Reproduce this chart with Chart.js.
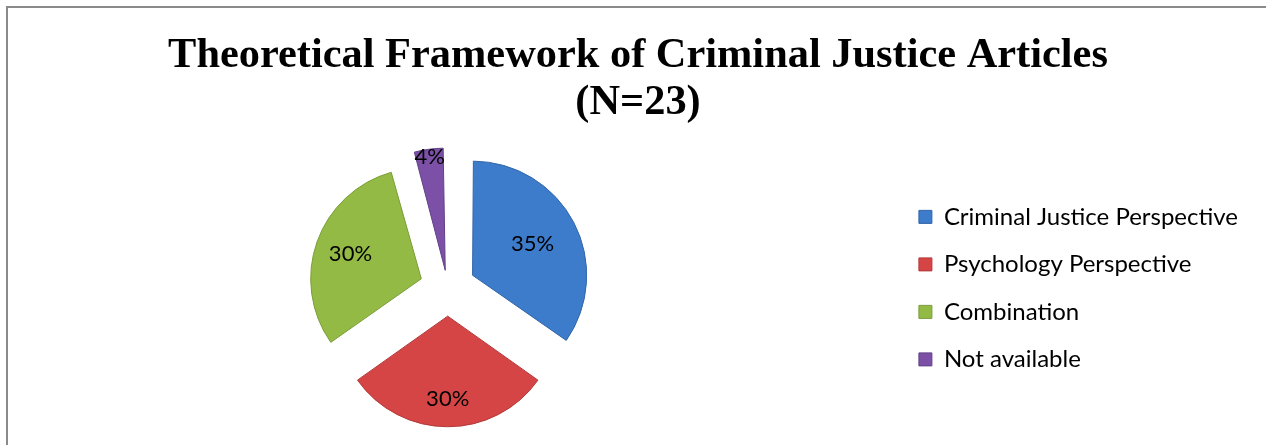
<!DOCTYPE html>
<html>
<head>
<meta charset="utf-8">
<title>Theoretical Framework of Criminal Justice Articles</title>
<script src="https://cdn.jsdelivr.net/npm/chart.js@4.4.0/dist/chart.umd.min.js"></script>
<style>
  html, body { margin: 0; padding: 0; background: #fff; overflow: hidden; }
  #frame { position: absolute; left: 6px; top: 6px; width: 1280px; height: 460px;
           border-left: 2px solid #8a8a8a; border-top: 2px solid #8a8a8a; }
  /* a bit wider than the window so the title centres like the original */
  #wrap { position: absolute; left: 0; top: 0; width: 1276px; height: 445px; }
</style>
</head>
<body>
<div id="frame"></div>
<div id="wrap"><canvas id="frameworkChart"></canvas></div>
<script>
// chart data (N=23 articles)
const categories = ['Criminal Justice Perspective', 'Psychology Perspective', 'Combination', 'Not available'];
const counts = [8, 7, 7, 1];
const sliceColors = ['#3C7CCB', '#D64545', '#93BA45', '#7B50A6'];
const edgeColors = ['#3266A8', '#B23838', '#7A9C38', '#634088'];
const titleLines = ['Theoretical Framework of Criminal Justice Articles', '(N=23)'];

// percent labels drawn inside / next to each slice
const pctLabels = {
  id: 'pctLabels',
  afterDatasetsDraw(chart, args, opts) {
    const ctx = chart.ctx;
    const meta = chart.getDatasetMeta(0);
    const total = counts.reduce((a, b) => a + b, 0);
    ctx.save();
    ctx.font = opts.font;
    ctx.fillStyle = opts.color;
    ctx.textAlign = 'center';
    ctx.textBaseline = 'middle';
    meta.data.forEach((arc, i) => {
      const p = arc.getProps(['x', 'y', 'startAngle', 'endAngle', 'outerRadius'], true);
      const mid = (p.startAngle + p.endAngle) / 2;
      const shift = (arc.options.offset || 0) / 4; // arc draw() moves slices by offset/4
      const d = shift + p.outerRadius * opts.reach[i];
      ctx.fillText(Math.round(counts[i] / total * 100) + '%', p.x + Math.cos(mid) * d, p.y + Math.sin(mid) * d);
    });
    ctx.restore();
  }
};

new Chart(document.getElementById('frameworkChart'), {
  type: 'pie',
  data: {
    labels: categories,
    datasets: [{
      data: counts,
      backgroundColor: sliceColors,
      borderColor: edgeColors,
      borderWidth: 1,
      offset: [112, 112, 112, 72],
      radius: 109
    }]
  },
  options: {
    responsive: true,
    maintainAspectRatio: false,
    animation: false,
    layout: { padding: { left: 0, right: 0, top: 0, bottom: 19 } },
    plugins: {
      title: {
        display: true,
        text: titleLines,
        color: '#000',
        font: { family: 'Liberation Serif', size: 42.4, weight: 'bold', lineHeight: 1.1 },
        padding: { top: 33, bottom: 24 }
      },
      // empty right-hand subtitle, only used as spacing beside the legend
      subtitle: {
        display: true,
        text: '',
        position: 'right',
        fullSize: false,
        font: { size: 1, lineHeight: 1 },
        padding: { top: 27, bottom: 0 }
      },
      legend: {
        position: 'right',
        fullSize: false,
        maxWidth: 420,
        labels: {
          color: '#000',
          font: { family: 'Lato', size: 24 },
          boxWidth: 13,
          boxHeight: 13,
          padding: 23.5
        }
      },
      tooltip: { enabled: false },
      pctLabels: {
        font: '22px Lato',
        color: '#000',
        reach: [0.62, 0.76, 0.69, 1.05]
      }
    }
  },
  plugins: [pctLabels]
});
</script>
</body>
</html>
